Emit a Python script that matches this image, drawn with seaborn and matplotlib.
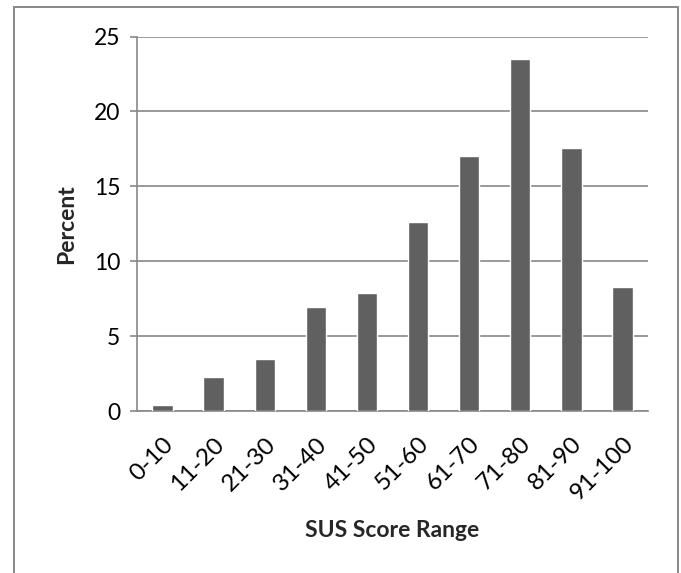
"""SUS score distribution bar chart."""

import matplotlib

matplotlib.use("Agg")

import matplotlib.pyplot as plt
import numpy as np
import pandas as pd
import seaborn as sns
from matplotlib.patches import Rectangle

score_ranges = ["0-10", "11-20", "21-30", "31-40", "41-50",
                "51-60", "61-70", "71-80", "81-90", "91-100"]
percent = [0.38, 2.25, 3.46, 6.94, 7.9, 12.6, 17.03, 23.48, 17.57, 8.3]
y_ticks = [0, 5, 10, 15, 20, 25]

BAR = "#606060"
LINE = "#888888"

sns.set_theme(style="white")
plt.rcParams["font.family"] = ["Lato", "DejaVu Sans"]

df = pd.DataFrame({"range": score_ranges, "percent": percent})

fig = plt.figure(figsize=(6.81, 5.73), dpi=100)
ax = fig.add_axes([137 / 681, 1 - 411 / 573, (648 - 137) / 681, (411 - 36.5) / 573])

sns.barplot(data=df, x="range", y="percent", color=BAR, width=0.4,
            saturation=1, ax=ax, zorder=3)

ax.set_xlim(-0.5, len(score_ranges) - 0.5)
ax.set_ylim(0, 25)
ax.set_yticks(y_ticks)
ax.yaxis.grid(True, color=LINE, linewidth=1.2, zorder=0)
ax.set_axisbelow(True)

for side in ["top", "right"]:
    ax.spines[side].set_visible(False)
for side in ["left", "bottom"]:
    ax.spines[side].set_color(LINE)
    ax.spines[side].set_linewidth(1.2)

# labels sit at category centres, tick marks at boundaries
ax.set_xticks(np.arange(len(score_ranges)))
ax.set_xticklabels(score_ranges, rotation=45, ha="right", rotation_mode="anchor")
ax.set_xticks(np.arange(-0.5, len(score_ranges)), minor=True)
ax.tick_params(axis="x", which="major", length=0, pad=16, labelsize=17.5, colors="black")
ax.tick_params(axis="x", which="minor", length=7, width=1.2, color=LINE, direction="out")
ax.tick_params(axis="y", length=5, width=1.2, color=LINE, labelsize=16.5,
               labelcolor="black", left=True, pad=7)

ax.set_xlabel("SUS Score Range", fontsize=16.5, fontweight="bold", labelpad=11)
ax.set_ylabel("Percent", fontsize=16.5, fontweight="bold", labelpad=12)

fig.patches.append(Rectangle((14 / 681, -0.02), (678 - 14) / 681, 1.02 - 7 / 573,
                             transform=fig.transFigure, fill=False,
                             edgecolor=LINE, linewidth=1.4))

fig.savefig("out.png", dpi=100)
